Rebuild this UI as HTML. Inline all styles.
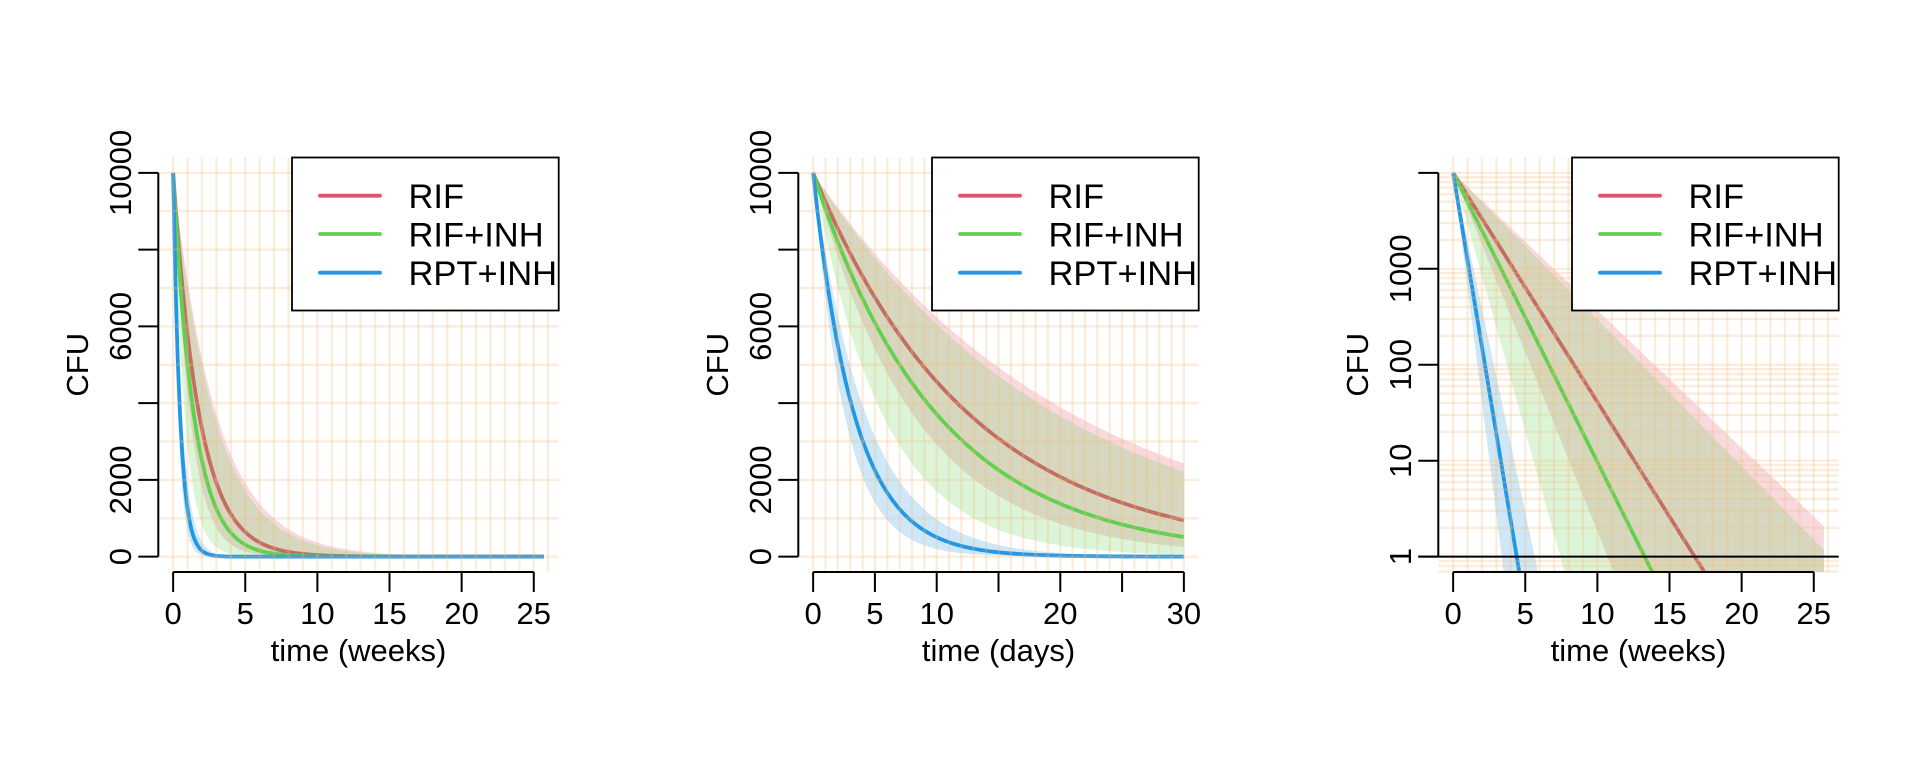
<!DOCTYPE html>
<html><head><meta charset="utf-8">
<style>
html,body{margin:0;padding:0;background:#fff;overflow:hidden;width:1920px;height:768px;}
svg{display:block;font-family:"Liberation Sans",Arial,sans-serif;}
</style></head>
<body>
<svg id="chart" width="1920" height="768" viewBox="0 0 1920 768" xmlns="http://www.w3.org/2000/svg"></svg>
<script>
// ---- data (log10 CFU at sample times, in weeks) ----
const sampleWeeks = [0, 5, 10, 15, 20, 25.7];
const seriesNames = ["RIF", "RIF+INH", "RPT+INH"];
const rifMid   = [4, 2.806, 1.612, 0.417, -0.777, -2.14];
const rifHi    = [4, 3.283, 2.567, 1.850, 1.134, 0.317];
const rifLo    = [4, 2.130, 0.265, -1.60, -3.47, -5.60];
const inhMid   = [4, 2.493, 0.986, -0.521, -2.028, -3.746];
const inhHi    = [4, 3.236, 2.471, 1.707, 0.942, 0.070];
const inhLo    = [4, 1.307, -1.385, -4.08, -6.77, -9.84];
const rptMid   = [4, -0.538, -5.08, -9.62, -14.15, -19.3];
const rptHi    = [4, 0.460, -3.08, -6.62, -10.16, -14.2];
const rptLo    = [4, -1.950, -7.90, -13.85, -19.8, -26.6];
const linTicks = [0, 2000, 4000, 6000, 8000, 10000];
const linTickLabels = ["0", "2000", "", "6000", "", "10000"];
const logTicks = [1, 10, 100, 1000, 10000];
const logTickLabels = ["1", "10", "100", "1000", ""];
const weekTicks = [0, 5, 10, 15, 20, 25];
const weekTickLabels = ["0", "5", "10", "15", "20", "25"];
const dayTicks = [0, 5, 10, 15, 20, 25, 30];
const dayTickLabels = ["0", "5", "10", "", "20", "", "30"];

const NS = "http://www.w3.org/2000/svg";
const svg = document.getElementById("chart");
const COLORS = ["#DF536B", "#61D04F", "#2297E6"];
const BAND = ["rgba(223,83,107,0.22)", "rgba(97,208,79,0.22)", "rgba(34,151,230,0.22)"];
const GRID = "rgba(240,190,130,0.27)";
function mk(tag, attrs, parent) {
  const e = document.createElementNS(NS, tag);
  for (const k in attrs) e.setAttribute(k, attrs[k]);
  (parent || svg).appendChild(e);
  return e;
}
function interpLog(arr, w) {
  for (let i = 0; i < sampleWeeks.length - 1; i++) {
    if (w <= sampleWeeks[i + 1] || i === sampleWeeks.length - 2) {
      const f = (w - sampleWeeks[i]) / (sampleWeeks[i + 1] - sampleWeeks[i]);
      return arr[i] + f * (arr[i + 1] - arr[i]);
    }
  }
}
const BOX = {l: 158.3, r: 558.7, t: 157.5, b: 572};

function panel(idx, cfg) {
  const dx = idx * 640;
  const g = mk("g", {transform: `translate(${dx},0)`});
  
  
  const W = BOX.r - BOX.l, H = BOX.b - BOX.t;
  const xs = t => BOX.l + (t - cfg.xmin) / (cfg.xmax - cfg.xmin) * W;
  const ys = v => BOX.b - (v - cfg.ymin) / (cfg.ymax - cfg.ymin) * H;
  const yv = lg => cfg.log ? ys(lg) : ys(Math.pow(10, lg));
  const clipId = "clip" + idx;
  const cp = mk("clipPath", {id: clipId}, g);
  mk("rect", {x: BOX.l, y: BOX.t, width: W, height: H}, cp);
  const plot = mk("g", {"clip-path": `url(#${clipId})`}, g);
  
  
  const N = 160;
  const tOf = i => cfg.tmax * i / N;
  const wk = t => t / cfg.perWeek;
  function band(lo, hi, ci) {
    let d = "";
    for (let i = 0; i <= N; i++) { const t = tOf(i); d += (i ? "L" : "M") + xs(t).toFixed(2) + "," + yv(interpLog(hi, wk(t))).toFixed(2); }
    for (let i = N; i >= 0; i--) { const t = tOf(i); d += "L" + xs(t).toFixed(2) + "," + yv(interpLog(lo, wk(t))).toFixed(2); }
    const p = mk("path", {d: d + "Z", fill: BAND[ci], stroke: "none"}, plot);
    
    
  }
  function line(arr, ci) {
    let d = "";
    for (let i = 0; i <= N; i++) { const t = tOf(i); d += (i ? "L" : "M") + xs(t).toFixed(2) + "," + yv(interpLog(arr, wk(t))).toFixed(2); }
    const p = mk("path", {d: d, fill: "none", stroke: COLORS[ci], "stroke-width": 3.8, "stroke-linejoin": "round"}, plot);
    
    
  }
  band(rifLo, rifHi, 0);
  line(rifMid, 0);
  band(inhLo, inhHi, 1);
  band(rptLo, rptHi, 2);
  // grid
  const grid = mk("g", {stroke: GRID, "stroke-width": 2.4}, g);
  
  
  for (let v = 0; v <= cfg.gridXMax; v++) mk("line", {x1: xs(v), x2: xs(v), y1: BOX.t, y2: BOX.b}, grid);
  if (cfg.log) {
    const gv = [0.7, 0.8, 0.9];
    for (let dcd = 0; dcd < 4; dcd++) for (let m = 1; m <= 9; m++) gv.push(m * Math.pow(10, dcd));
    gv.push(10000);
    gv.forEach(v => { const y = ys(Math.log10(v)); mk("line", {x1: BOX.l, x2: BOX.r, y1: y, y2: y}, grid); });
  } else {
    for (let v = 0; v <= 10000; v += 1000) mk("line", {x1: BOX.l, x2: BOX.r, y1: ys(v), y2: ys(v)}, grid);
  }
  line(inhMid, 1);
  line(rptMid, 2);
  // axes
  const ax = mk("g", {stroke: "#000", "stroke-width": 2, fill: "none"}, g);
  
  
  const xt = cfg.xTicks;
  mk("line", {x1: xs(xt[0]), x2: xs(xt[xt.length - 1]), y1: BOX.b, y2: BOX.b}, ax);
  xt.forEach((t, i) => {
    mk("line", {x1: xs(t), x2: xs(t), y1: BOX.b, y2: BOX.b + 20}, ax);
    if (cfg.xLabels[i]) {
      const tx = mk("text", {x: xs(t), y: 624, "text-anchor": "middle", "font-size": 31, fill: "#000"}, g);
      tx.textContent = cfg.xLabels[i];
      
      
    }
  });
  const yt = cfg.yTicks;
  const yp = v => cfg.log ? ys(Math.log10(v)) : ys(v);
  mk("line", {x1: BOX.l, x2: BOX.l, y1: yp(yt[0]), y2: yp(yt[yt.length - 1])}, ax);
  yt.forEach((v, i) => {
    const y = yp(v);
    mk("line", {x1: BOX.l - 20, x2: BOX.l, y1: y, y2: y}, ax);
    if (cfg.yLabels[i]) {
      const tx = mk("text", {x: 0, y: 0, transform: `translate(131,${y}) rotate(-90)`, "text-anchor": "middle", "font-size": 31, fill: "#000"}, g);
      tx.textContent = cfg.yLabels[i];
      
      
    }
  });
  if (cfg.log) mk("line", {x1: BOX.l - 20, x2: BOX.r, y1: ys(0), y2: ys(0), stroke: "#000", "stroke-width": 2}, g);
  const xtl = mk("text", {x: (BOX.l + BOX.r) / 2, y: 661, "text-anchor": "middle", "font-size": 31, fill: "#000"}, g);
  xtl.textContent = cfg.xTitle;
  
  
  const ytl = mk("text", {x: 0, y: 0, transform: `translate(88,${(BOX.t + BOX.b) / 2}) rotate(-90)`, "text-anchor": "middle", "font-size": 31, fill: "#000"}, g);
  ytl.textContent = "CFU";
  
  
  // legend
  const lg = mk("g", {}, g);
  
  
  const L = 292;
  mk("rect", {x: L, y: BOX.t, width: BOX.r - L, height: 153, fill: "#fff", stroke: "#000", "stroke-width": 1.8}, lg);
  const ey = [195.7, 234, 272.7];
  seriesNames.forEach((n, i) => {
    const ent = mk("g", {}, lg);
    
    
    mk("line", {x1: L + 28, x2: L + 88, y1: ey[i], y2: ey[i], stroke: COLORS[i], "stroke-width": 3.8, "stroke-linecap": "round"}, ent);
    const t = mk("text", {x: L + 116.5, y: ey[i] + 12.3, "font-size": 34.5, fill: "#000"}, ent);
    t.textContent = n;
  });
}

panel(0, {xmin: -1.028, xmax: 26.728, tmax: 25.7, perWeek: 1, gridXMax: 26, log: false, ymin: -400, ymax: 10400,
  xTicks: weekTicks, xLabels: weekTickLabels, yTicks: linTicks, yLabels: linTickLabels, xTitle: "time (weeks)"});
panel(1, {xmin: -1.2, xmax: 31.2, tmax: 30, perWeek: 7, gridXMax: 30, log: false, ymin: -400, ymax: 10400,
  xTicks: dayTicks, xLabels: dayTickLabels, yTicks: linTicks, yLabels: linTickLabels, xTitle: "time (days)"});
panel(2, {xmin: -1.028, xmax: 26.728, tmax: 25.7, perWeek: 1, gridXMax: 26, log: true, ymin: -0.16, ymax: 4.16,
  xTicks: weekTicks, xLabels: weekTickLabels, yTicks: logTicks, yLabels: logTickLabels, xTitle: "time (weeks)"});
</script>
</body></html>
